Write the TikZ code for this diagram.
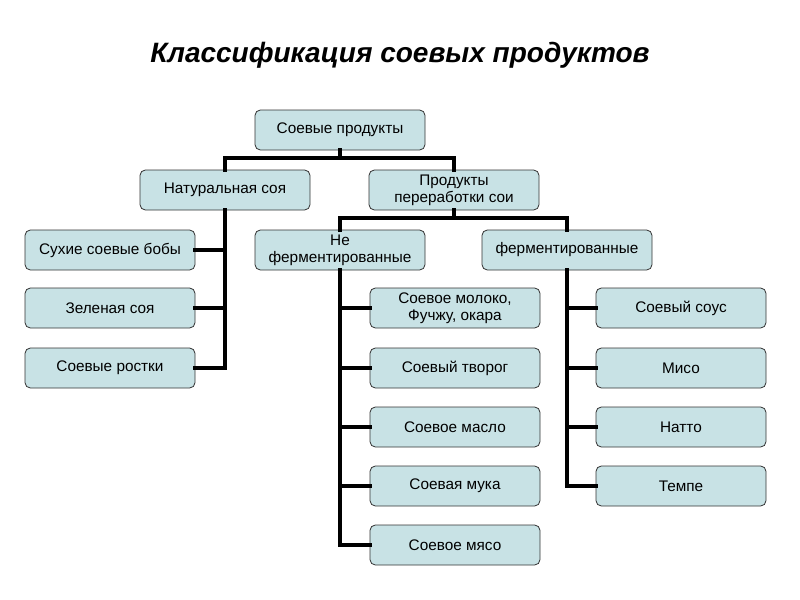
\documentclass[tikz,border=0pt]{standalone}
\usepackage{fontspec}
\setmainfont{Liberation Sans}
\begin{document}
\begin{tikzpicture}[x=0.75pt,y=-0.75pt,
 box/.style={draw=black!80,line width=0.6pt,fill={rgb,255:red,200;green,226;blue,229},rounded corners=4pt,minimum width=127.5pt,minimum height=30pt,inner sep=1pt,align=center,font=\fontsize{11.5}{12.5}\selectfont},
 ln/.style={line width=3pt,line cap=rect}]
\useasboundingbox (0,0) rectangle (800,600);
\node[font=\fontsize{21}{24}\selectfont\bfseries\itshape] (t) at (400,55) {Классификация соевых продуктов};
\node[box] (root) at (340,130) {Соевые продукты};
\node[box] (nat) at (225,190) {Натуральная соя};
\node[box] (proc) at (454,190) {Продукты\\переработки сои};
\node[box] (a1) at (110,250) {Сухие соевые бобы};
\node[box] (a2) at (110,308) {Зеленая соя};
\node[box] (a3) at (110,368) {Соевые ростки};
\node[box] (nf) at (340,250) {Не\\ферментированные};
\node[box] (f) at (567,250) {ферментированные};
\node[box] (b1) at (455,308) {Соевое молоко,\\Фучжу, окара};
\node[box] (b2) at (455,368) {Соевый творог};
\node[box] (b3) at (455,427) {Соевое масло};
\node[box] (b4) at (455,486) {Соевая мука};
\node[box] (b5) at (455,545) {Соевое мясо};
\node[box] (c1) at (681,308) {Соевый соус};
\node[box] (c2) at (681,368) {Мисо};
\node[box] (c3) at (681,427) {Натто};
\node[box] (c4) at (681,486) {Темпе};
\begin{scope}[on background layer/.try]
\end{scope}
\draw[ln] (root.south) -- (340,158) -| (nat.north);
\draw[ln] (340,158) -| (proc.north);
\draw[ln] (nat.south) |- (a3.east);
\draw[ln] (225,250) -- (a1.east);
\draw[ln] (225,308) -- (a2.east);
\draw[ln] (proc.south) -- (454,218) -| (nf.north);
\draw[ln] (454,218) -| (f.north);
\draw[ln] (nf.south) |- (b5.west);
\foreach \n/\y in {b1/308,b2/368,b3/427,b4/486} \draw[ln] (340,\y) -- (\n.west);
\draw[ln] (f.south) |- (c4.west);
\foreach \n/\y in {c1/308,c2/368,c3/427} \draw[ln] (567,\y) -- (\n.west);
\end{tikzpicture}
\end{document}
